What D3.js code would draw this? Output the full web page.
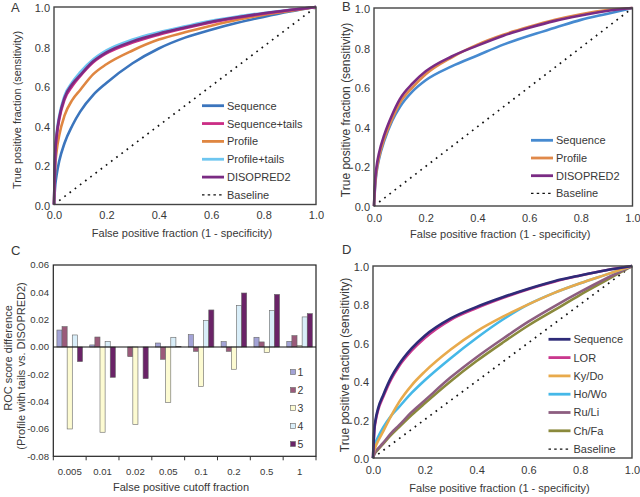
<!DOCTYPE html>
<html>
<head>
<meta charset="utf-8">
<script src="https://cdn.jsdelivr.net/npm/d3@7"></script>
<style>
  body { margin: 0; background: #fff; }
  text { font-family: 'Liberation Sans', Arial, sans-serif; fill: #383838; }
</style>
</head>
<body>
<svg id="chart" width="640" height="497"></svg>
<script>
// shared false positive fractions for the ROC curves
const fpr = [0, 0.005, 0.01, 0.02, 0.04, 0.07, 0.1, 0.15, 0.2, 0.3, 0.4, 0.5, 0.6, 0.7, 0.8, 0.9, 1];
const rocTicks = [0, 0.2, 0.4, 0.6, 0.8, 1];

// Panel A
const aSequence = [0, 0.1, 0.15, 0.22, 0.31, 0.4, 0.47, 0.555, 0.615, 0.715, 0.79, 0.845, 0.885, 0.92, 0.95, 0.977, 1];
const aSequenceTails = [0, 0.26, 0.34, 0.43, 0.53, 0.6, 0.65, 0.72, 0.765, 0.82, 0.86, 0.893, 0.922, 0.946, 0.966, 0.984, 1];
const aProfile = [0, 0.2, 0.27, 0.35, 0.45, 0.53, 0.58, 0.66, 0.71, 0.78, 0.835, 0.872, 0.905, 0.935, 0.96, 0.98, 1];
const aProfileTails = [0, 0.28, 0.36, 0.45, 0.55, 0.62, 0.67, 0.735, 0.78, 0.835, 0.872, 0.902, 0.93, 0.952, 0.97, 0.986, 1];
const aDisopred = [0, 0.27, 0.35, 0.44, 0.54, 0.61, 0.655, 0.725, 0.77, 0.826, 0.865, 0.896, 0.925, 0.948, 0.968, 0.985, 1];

// Panel B
const bSequence = [0, 0.11, 0.17, 0.24, 0.33, 0.43, 0.5, 0.58, 0.635, 0.705, 0.76, 0.815, 0.86, 0.9, 0.94, 0.97, 1];
const bProfile = [0, 0.12, 0.18, 0.25, 0.34, 0.44, 0.52, 0.6, 0.665, 0.75, 0.815, 0.865, 0.905, 0.94, 0.968, 0.99, 1];
const bDisopred = [0, 0.14, 0.2, 0.27, 0.36, 0.46, 0.54, 0.62, 0.68, 0.755, 0.81, 0.86, 0.9, 0.935, 0.962, 0.985, 1];

// Panel C
const cutoffs = ['0.005', '0.01', '0.02', '0.05', '0.1', '0.2', '0.5', '1'];
const cGroups = ['1', '2', '3', '4', '5'];
const cDiff1 = [0.0124, 0.0015, 0.0, 0.0029, 0.009, 0.0039, 0.0071, 0.0041];
const cDiff2 = [0.0149, 0.0073, -0.0071, -0.009, -0.0032, -0.0032, 0.0037, 0.0083];
const cDiff3 = [-0.060, -0.0624, -0.0566, -0.0405, -0.0288, -0.0163, -0.0041, 0.001];
const cDiff4 = [0.0088, 0.0041, 0.0, 0.0071, 0.0195, 0.0305, 0.0266, 0.022];
const cDiff5 = [-0.0107, -0.0222, -0.0232, 0.0005, 0.0271, 0.0395, 0.0385, 0.0244];
const cTicks = [0.06, 0.04, 0.02, 0, -0.02, -0.04, -0.06, -0.08];

// Panel D
const dSequence = [0, 0.15, 0.2, 0.26, 0.33, 0.42, 0.487, 0.572, 0.637, 0.727, 0.787, 0.837, 0.882, 0.921, 0.951, 0.978, 1];
const dLor = [0, 0.14, 0.19, 0.25, 0.32, 0.41, 0.477, 0.56, 0.625, 0.72, 0.781, 0.833, 0.879, 0.918, 0.95, 0.978, 1];
const dKyDo = [0, 0.04, 0.06, 0.09, 0.14, 0.22, 0.29, 0.38, 0.45, 0.565, 0.66, 0.735, 0.8, 0.86, 0.91, 0.955, 1];
const dHoWo = [0, 0.05, 0.08, 0.11, 0.16, 0.22, 0.265, 0.34, 0.405, 0.52, 0.625, 0.72, 0.8, 0.86, 0.91, 0.955, 1];
const dRuLi = [0, 0.02, 0.035, 0.05, 0.08, 0.13, 0.17, 0.24, 0.3, 0.42, 0.525, 0.62, 0.71, 0.79, 0.865, 0.935, 1];
const dChFa = [0, 0.02, 0.03, 0.045, 0.075, 0.12, 0.16, 0.225, 0.285, 0.4, 0.505, 0.6, 0.69, 0.77, 0.85, 0.925, 1];

const svg = d3.select('#chart');
const fmt1 = d => d.toFixed(1);

function drawRoc(cfg) {
  const x = d3.scaleLinear().domain([0, 1]).range([cfg.left, cfg.right]);
  const y = d3.scaleLinear().domain([0, 1]).range([cfg.bottom, cfg.top]);
  const g = svg.append('g');

  // tick labels (no tick marks in the original)
  g.append('g')
    .attr('transform', `translate(0,${cfg.bottom})`)
    .call(d3.axisBottom(x).tickValues(rocTicks).tickFormat(fmt1).tickSize(0).tickPadding(cfg.xPad))
    .call(a => a.select('.domain').remove())
    .call(a => a.selectAll('text').attr('font-size', 11).attr('fill', '#383838'));
  g.append('g')
    .attr('transform', `translate(${cfg.left},1)`)
    .call(d3.axisLeft(y).tickValues(rocTicks).tickFormat(fmt1).tickSize(0).tickPadding(4))
    .call(a => a.select('.domain').remove())
    .call(a => a.selectAll('text').attr('font-size', 11).attr('fill', '#383838'));

  // baseline
  g.append('line')
    .attr('x1', x(0)).attr('y1', y(0))
    .attr('x2', x(1)).attr('y2', y(1))
    .attr('stroke', '#111')
    .attr('stroke-width', 1.7)
    .attr('stroke-dasharray', '1.7,4.8');

  const line = d3.line()
    .x((d, i) => x(fpr[i]))
    .y(d => y(d))
    .curve(d3.curveMonotoneX);

  cfg.draw.forEach((s) => {
    g.append('path')
      .attr('d', line(s.values))
      .attr('fill', 'none')
      .attr('stroke', s.color)
      .attr('stroke-width', 2.6);
  });

  // frame
  g.append('rect')
    .attr('x', cfg.left).attr('y', cfg.top)
    .attr('width', cfg.right - cfg.left)
    .attr('height', cfg.bottom - cfg.top)
    .attr('fill', 'none')
    .attr('stroke', '#444')
    .attr('stroke-width', 1.4);

  // legend
  const leg = g.append('g');
  cfg.legend.concat([{ name: 'Baseline', color: '#111', dashed: true }]).forEach((s, i) => {
    const ly = cfg.legY + i * cfg.legStep;
    leg.append('line')
      .attr('x1', cfg.legX).attr('x2', cfg.legX + 22)
      .attr('y1', ly).attr('y2', ly)
      .attr('stroke', s.color)
      .attr('stroke-width', s.dashed ? 1.3 : 2.8)
      .attr('stroke-dasharray', s.dashed ? '2.5,3.2' : null);
    leg.append('text')
      .attr('x', cfg.legX + 25).attr('y', ly)
      .attr('dy', '0.36em')
      .attr('font-size', 11)
      .text(s.name);
  });

  // axis titles
  g.append('text')
    .attr('x', (cfg.left + cfg.right) / 2 - 3)
    .attr('y', cfg.xLabelY)
    .attr('text-anchor', 'middle')
    .attr('font-size', 11)
    .text('False positive fraction (1 - specificity)');
  g.append('text')
    .attr('transform', `translate(${cfg.yLabelX},${cfg.yLabelMid}) rotate(-90)`)
    .attr('text-anchor', 'middle')
    .attr('font-size', cfg.yLabelSize)
    .text('True positive fraction (sensitivity)');

  g.append('text')
    .attr('x', cfg.letterX).attr('y', cfg.letterY)
    .attr('font-size', 13)
    .text(cfg.letter);
}

// A
const aColors = { seq: '#3b75bd', seqT: '#cb2d85', prof: '#df8641', profT: '#6ec6f0', dis: '#7a2b83' };
drawRoc({
  letter: 'A', letterX: 11, letterY: 12,
  left: 54, right: 316, top: 7, bottom: 204.5, xPad: 7,
  xLabelY: 237, yLabelX: 20.5, yLabelMid: 110, yLabelSize: 10.9,
  legX: 202, legY: 105.7, legStep: 17.85,
  draw: [
    { values: aSequence, color: aColors.seq },
    { values: aProfile, color: aColors.prof },
    { values: aProfileTails, color: aColors.profT },
    { values: aSequenceTails, color: aColors.seqT },
    { values: aDisopred, color: aColors.dis },
  ],
  legend: [
    { name: 'Sequence', color: aColors.seq },
    { name: 'Sequence+tails', color: aColors.seqT },
    { name: 'Profile', color: aColors.prof },
    { name: 'Profile+tails', color: aColors.profT },
    { name: 'DISOPRED2', color: aColors.dis },
  ],
});

// B
const bColors = { seq: '#468ad0', prof: '#e0894a', dis: '#7a2b84' };
drawRoc({
  letter: 'B', letterX: 342, letterY: 11,
  left: 374, right: 632.5, top: 8, bottom: 206, xPad: 8,
  xLabelY: 238, yLabelX: 350, yLabelMid: 110, yLabelSize: 12,
  legX: 531, legY: 140.3, legStep: 17.7,
  draw: [
    { values: bSequence, color: bColors.seq },
    { values: bProfile, color: bColors.prof },
    { values: bDisopred, color: bColors.dis },
  ],
  legend: [
    { name: 'Sequence', color: bColors.seq },
    { name: 'Profile', color: bColors.prof },
    { name: 'DISOPRED2', color: bColors.dis },
  ],
});

// D
const dColors = { seq: '#2e2b78', lor: '#c9378d', ky: '#e8aa4c', ho: '#45b8e8', ru: '#8d5e80', ch: '#8a893c' };
drawRoc({
  letter: 'D', letterX: 342, letterY: 254,
  left: 373, right: 632, top: 266, bottom: 458, xPad: 8,
  xLabelY: 492, yLabelX: 349, yLabelMid: 365, yLabelSize: 12,
  legX: 548.5, legY: 339.3, legStep: 18.3,
  draw: [
    { values: dChFa, color: dColors.ch },
    { values: dRuLi, color: dColors.ru },
    { values: dHoWo, color: dColors.ho },
    { values: dKyDo, color: dColors.ky },
    { values: dLor, color: dColors.lor },
    { values: dSequence, color: dColors.seq },
  ],
  legend: [
    { name: 'Sequence', color: dColors.seq },
    { name: 'LOR', color: dColors.lor },
    { name: 'Ky/Do', color: dColors.ky },
    { name: 'Ho/Wo', color: dColors.ho },
    { name: 'Ru/Li', color: dColors.ru },
    { name: 'Ch/Fa', color: dColors.ch },
  ],
});

// C: grouped bar chart
(function drawBars() {
  const left = 53.3;
  const right = 316;
  const top = 265;
  const bottom = 456.3;
  const series = [cDiff1, cDiff2, cDiff3, cDiff4, cDiff5];
  const colors = ['#a3a3d6', '#9a5a7a', '#fdfbd2', '#d9eef9', '#6a2367'];

  const x0 = d3.scaleBand().domain(cutoffs).range([left, right])
    .paddingInner(0.22).paddingOuter(0.11);
  const x1 = d3.scaleBand().domain(cGroups).range([0, x0.bandwidth()]);
  const y = d3.scaleLinear().domain([-0.08, 0.06]).range([bottom, top]);
  const g = svg.append('g');

  g.append('rect')
    .attr('x', left).attr('y', top)
    .attr('width', right - left).attr('height', bottom - top)
    .attr('fill', 'none').attr('stroke', '#222').attr('stroke-width', 1.2);

  cutoffs.forEach((c, i) => {
    cGroups.forEach((k, j) => {
      const v = series[j][i];
      if (Math.abs(v) < 0.0002) return;
      g.append('rect')
        .attr('x', x0(c) + x1(k))
        .attr('y', y(Math.max(0, v)))
        .attr('width', x1.bandwidth())
        .attr('height', Math.abs(y(v) - y(0)))
        .attr('fill', colors[j])
        .attr('stroke', '#666')
        .attr('stroke-width', 0.6);
    });
  });

  // zero line
  g.append('line')
    .attr('x1', left).attr('x2', right)
    .attr('y1', y(0)).attr('y2', y(0))
    .attr('stroke', '#111').attr('stroke-width', 1.2);

  // y tick labels
  g.selectAll('.ytl').data(cTicks).enter().append('text')
    .attr('x', 49).attr('y', d => y(d))
    .attr('dy', '0.35em')
    .attr('text-anchor', 'end')
    .attr('font-size', 9.6)
    .text(d => d.toFixed(2));

  // x category ticks between groups
  const step = x0.step();
  d3.range(cutoffs.length + 1).forEach((i) => {
    const tx = left + i * step;
    g.append('line')
      .attr('x1', tx).attr('x2', tx)
      .attr('y1', bottom).attr('y2', bottom + 4)
      .attr('stroke', '#333').attr('stroke-width', 1);
  });
  g.selectAll('.xtl').data(cutoffs).enter().append('text')
    .attr('x', d => x0(d) + x0.bandwidth() / 2)
    .attr('y', 475)
    .attr('text-anchor', 'middle')
    .attr('font-size', 9.6)
    .text(d => d);

  g.append('text')
    .attr('x', 181).attr('y', 491)
    .attr('text-anchor', 'middle')
    .attr('font-size', 11)
    .text('False positive cutoff fraction');
  g.append('text')
    .attr('transform', 'translate(11.5,358) rotate(-90)')
    .attr('text-anchor', 'middle')
    .attr('font-size', 11)
    .text('ROC score difference');
  g.append('text')
    .attr('transform', 'translate(24.5,366) rotate(-90)')
    .attr('text-anchor', 'middle')
    .attr('font-size', 11)
    .text('(Profile with tails vs. DISOPRED2)');

  // legend
  cGroups.forEach((k, j) => {
    const ly = 372 + j * 18;
    g.append('rect')
      .attr('x', 290.5).attr('y', ly - 2.5)
      .attr('width', 5).attr('height', 5)
      .attr('fill', colors[j]).attr('stroke', '#666').attr('stroke-width', 0.6);
    g.append('text')
      .attr('x', 297.5).attr('y', ly)
      .attr('dy', '0.36em')
      .attr('font-size', 10.5)
      .text(k);
  });

  g.append('text')
    .attr('x', 11).attr('y', 255)
    .attr('font-size', 13)
    .text('C');
})();
</script>
</body>
</html>
